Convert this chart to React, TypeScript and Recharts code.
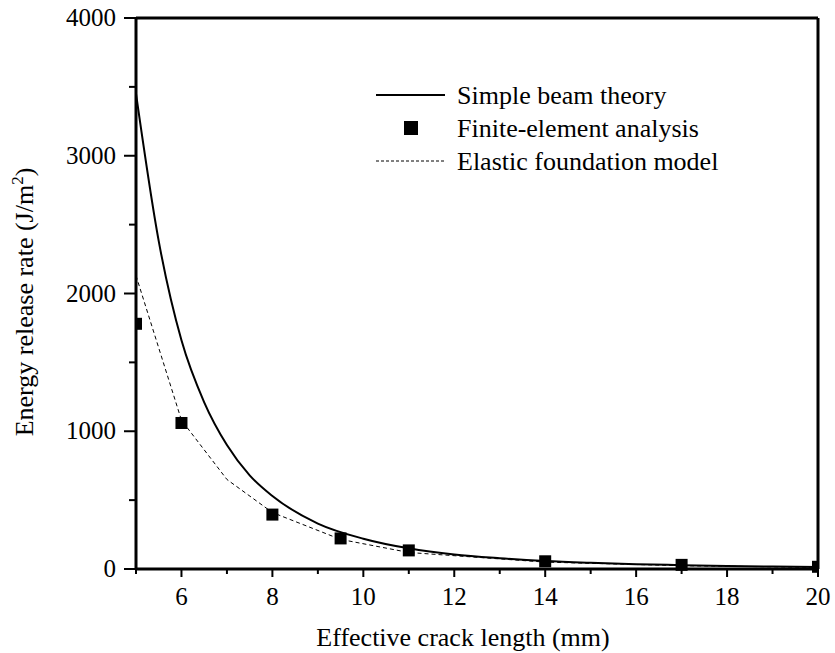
import React from "react";
import {
  ComposedChart,
  Line,
  Scatter,
  XAxis,
  YAxis,
  ReferenceLine,
} from "recharts";

const FONT = "'Liberation Serif', 'Times New Roman', serif";

// simple beam theory curve
const beamX = [5, 5.5, 6, 6.5, 7, 7.5, 8, 9, 10, 11, 12, 13, 14, 15, 16, 17, 18, 19, 20];
const beamG = [3450, 2380, 1660, 1210, 900, 680, 530, 330, 220, 150, 105, 78, 58, 45, 35, 28, 22, 18, 14];

// finite-element points
const feaX = [5, 6, 8, 9.5, 11, 14, 17, 20];
const feaG = [1780, 1060, 395, 222, 135, 56, 30, 16];

// elastic foundation model
const elasticX = [5, 6, 7, 8, 9.5, 11, 14, 17, 20];
const elasticG = [2130, 1080, 650, 410, 215, 120, 50, 24, 12];

const xTicks = [5, 6, 7, 8, 9, 10, 11, 12, 13, 14, 15, 16, 17, 18, 19, 20];
const yTicks = [0, 500, 1000, 1500, 2000, 2500, 3000, 3500, 4000];

const beamData = beamX.map((x, i) => ({ x, y: beamG[i] }));
const feaData = feaX.map((x, i) => ({ x, y: feaG[i] }));
const elasticData = elasticX.map((x, i) => ({ x, y: elasticG[i] }));

const XTick = (props: any) => {
  const { x, y, payload } = props;
  const major = payload.value % 2 === 0;
  return (
    <g>
      <line x1={x} x2={x} y1={y} y2={y + (major ? 8 : 5)} stroke="#000" strokeWidth={2} />
      {major && (
        <text x={x} y={y + 36} textAnchor="middle" fontFamily={FONT} fontSize={25} fill="#000">
          {payload.value}
        </text>
      )}
    </g>
  );
};

const YTick = (props: any) => {
  const { x, y, payload } = props;
  const major = payload.value % 1000 === 0;
  return (
    <g>
      <line x1={x - (major ? 12 : 7)} x2={x} y1={y} y2={y} stroke="#000" strokeWidth={2} />
      {major && (
        <text x={x - 20} y={y + 8} textAnchor="end" fontFamily={FONT} fontSize={25} fill="#000">
          {payload.value}
        </text>
      )}
    </g>
  );
};

const Square = (props: any) => {
  const { cx, cy } = props;
  if (cx == null || cy == null) return null;
  return <rect x={cx - 6} y={cy - 6} width={12} height={12} fill="#000" />;
};

const LegendBox = () => (
  <svg width={835} height={653} style={{ position: "absolute", left: 0, top: 0, pointerEvents: "none" }}>
    <line x1={376} x2={445} y1={95} y2={95} stroke="#000" strokeWidth={2} />
    <text x={457} y={104} fontFamily={FONT} fontSize={26} fill="#000">Simple beam theory</text>
    <rect x={404} y={121} width={14} height={14} fill="#000" />
    <text x={457} y={137} fontFamily={FONT} fontSize={26} fill="#000">Finite-element analysis</text>
    <line x1={376} x2={445} y1={161} y2={161} stroke="#000" strokeWidth={1} strokeDasharray="3 2" />
    <text x={457} y={170} fontFamily={FONT} fontSize={26} fill="#000">Elastic foundation model</text>
  </svg>
);

export default function App() {
  return (
    <div style={{ position: "absolute", left: 0, top: 0, width: 835, height: 653, background: "#fff" }}>
      <ComposedChart width={835} height={653} margin={{ top: 18, right: 17, bottom: 0, left: 0 }}>
        <XAxis
          dataKey="x"
          type="number"
          domain={[5, 20]}
          ticks={xTicks}
          allowDataOverflow
          height={84}
          tickLine={false}
          tickSize={0}
          tickMargin={0}
          axisLine={{ stroke: "#000", strokeWidth: 3 }}
          tick={<XTick />}
          interval={0}
          label={() => (
            <text x={463} y={646} textAnchor="middle" fontFamily={FONT} fontSize={26} fill="#000">
              Effective crack length (mm)
            </text>
          )}
        />
        <YAxis
          type="number"
          domain={[0, 4000]}
          ticks={yTicks}
          width={136}
          tickLine={false}
          tickSize={0}
          tickMargin={0}
          axisLine={{ stroke: "#000", strokeWidth: 3 }}
          tick={<YTick />}
          interval={0}
          label={() => {
            const cy = 302;
            return (
              <text
                x={33}
                y={cy}
                transform={`rotate(-90, 33, ${cy})`}
                textAnchor="middle"
                fontFamily={FONT}
                fontSize={26}
                fill="#000"
              >
                Energy release rate (J/m
                <tspan dy={-10} fontSize={17}>2</tspan>
                <tspan dy={10}>)</tspan>
              </text>
            );
          }}
        />
        <ReferenceLine y={4000} stroke="#000" strokeWidth={3} />
        <ReferenceLine x={20} stroke="#000" strokeWidth={3} />
        <Line
          data={beamData}
          dataKey="y"
          type="monotone"
          stroke="#000"
          strokeWidth={2}
          dot={false}
          isAnimationActive={false}
          name="Simple beam theory"
        />
        <Line
          data={elasticData}
          dataKey="y"
          type="linear"
          stroke="#000"
          strokeWidth={1}
          strokeDasharray="4 3"
          dot={false}
          isAnimationActive={false}
          name="Elastic foundation model"
        />
        <Scatter
          data={feaData}
          dataKey="y"
          fill="#000"
          shape={<Square />}
          isAnimationActive={false}
          name="Finite-element analysis"
        />
      </ComposedChart>
      <LegendBox />
    </div>
  );
}
